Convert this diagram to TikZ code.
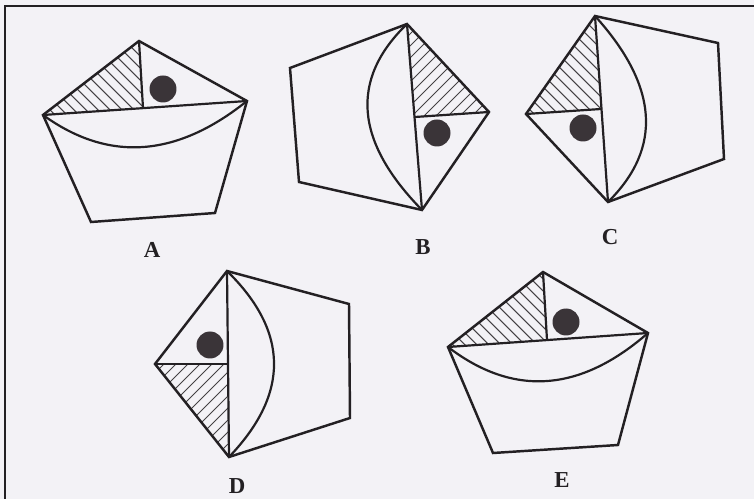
\documentclass[tikz,border=0pt]{standalone}
\usepackage{fontspec}
\setmainfont{Liberation Serif}
\usetikzlibrary{calc}
\definecolor{paper}{RGB}{243,242,246}
\definecolor{ink}{RGB}{35,32,35}
\definecolor{blot}{RGB}{58,52,56}

\begin{document}
\begin{tikzpicture}[x=0.02cm,y=-0.02cm,
  edge/.style={draw=ink,line width=1.4pt,line join=miter},
  cut/.style={draw=ink,line width=1.25pt},
  hatch/.style={draw=ink!85,line width=0.6pt},
  dot/.style={circle,fill=blot,minimum size=0.54cm,inner sep=0pt},
  lab/.style={font=\bfseries\fontsize{13}{13}\selectfont,text=ink}]
  \fill[paper] (0,0) rectangle (754,499);
  \useasboundingbox (0,0) rectangle (754,499);
  \draw[ink,line width=1.2pt] (5,499) -- (5,6) -- (754,6);

  % A
  \coordinate (aT) at (139,41);
  \coordinate (aR) at (247,101);
  \coordinate (aBR) at (215,213);
  \coordinate (aBL) at (91,222);
  \coordinate (aL) at (43,115);
  \coordinate (aF) at (143,108);
  \coordinate (aQ) at (141,186);
  \begin{scope}
    \clip (aT) -- (aL) -- (aF) -- cycle;
    \foreach \c in {-600,-588,...,800} \draw[hatch] (\c,0) -- ++(500,500);
  \end{scope}
  \draw[edge] (aT) -- (aR) -- (aBR) -- (aBL) -- (aL) -- cycle;
  \draw[cut] (aL) -- (aR);
  \draw[cut] (aT) -- (aF);
  \draw[cut] (aL) .. controls ($(aL)!.667!(aQ)$) and ($(aR)!.667!(aQ)$) .. (aR);
  \node[dot] (aDot) at (163,89) {};
  \node[lab] (aLab) at (152,250) {A};

  % B
  \coordinate (bT) at (407,24);
  \coordinate (bR) at (489,112);
  \coordinate (bB) at (422,210);
  \coordinate (bLB) at (299,182);
  \coordinate (bLT) at (290,68);
  \coordinate (bF) at (415,117);
  \coordinate (bQ) at (321,107);
  \begin{scope}
    \clip (bT) -- (bR) -- (bF) -- cycle;
    \foreach \c in {0,12,...,1300} \draw[hatch] (\c,0) -- ++(-500,500);
  \end{scope}
  \draw[edge] (bT) -- (bR) -- (bB) -- (bLB) -- (bLT) -- cycle;
  \draw[cut] (bT) -- (bB);
  \draw[cut] (bR) -- (bF);
  \draw[cut] (bT) .. controls ($(bT)!.667!(bQ)$) and ($(bB)!.667!(bQ)$) .. (bB);
  \node[dot] (bDot) at (437,133) {};
  \node[lab] (bLab) at (423,247) {B};

  % C
  \coordinate (cT) at (595,16);
  \coordinate (cRT) at (718,43);
  \coordinate (cRB) at (724,159);
  \coordinate (cB) at (608,202);
  \coordinate (cL) at (526,114);
  \coordinate (cF) at (601,109);
  \coordinate (cQ) at (690,121);
  \begin{scope}
    \clip (cT) -- (cL) -- (cF) -- cycle;
    \foreach \c in {-600,-588,...,800} \draw[hatch] (\c,0) -- ++(500,500);
  \end{scope}
  \draw[edge] (cT) -- (cRT) -- (cRB) -- (cB) -- (cL) -- cycle;
  \draw[cut] (cT) -- (cB);
  \draw[cut] (cL) -- (cF);
  \draw[cut] (cT) .. controls ($(cT)!.667!(cQ)$) and ($(cB)!.667!(cQ)$) .. (cB);
  \node[dot] (cDot) at (583,128) {};
  \node[lab] (cLab) at (610,237) {C};

  % D
  \coordinate (dT) at (227,271);
  \coordinate (dRT) at (349,304);
  \coordinate (dRB) at (350,418);
  \coordinate (dB) at (229,457);
  \coordinate (dL) at (155,364);
  \coordinate (dF) at (228,364);
  \coordinate (dQ) at (320,362);
  \begin{scope}
    \clip (dL) -- (dF) -- (dB) -- cycle;
    \foreach \c in {0,12,...,1300} \draw[hatch] (\c,0) -- ++(-500,500);
  \end{scope}
  \draw[edge] (dT) -- (dRT) -- (dRB) -- (dB) -- (dL) -- cycle;
  \draw[cut] (dT) -- (dB);
  \draw[cut] (dL) -- (dF);
  \draw[cut] (dT) .. controls ($(dT)!.667!(dQ)$) and ($(dB)!.667!(dQ)$) .. (dB);
  \node[dot] (dDot) at (210,345) {};
  \node[lab] (dLab) at (237,486) {D};

  % E
  \coordinate (eT) at (543,272);
  \coordinate (eR) at (648,333);
  \coordinate (eBR) at (618,445);
  \coordinate (eBL) at (493,453);
  \coordinate (eL) at (448,347);
  \coordinate (eF) at (547,340);
  \coordinate (eQ) at (546,422);
  \begin{scope}
    \clip (eT) -- (eL) -- (eF) -- cycle;
    \foreach \c in {-600,-588,...,800} \draw[hatch] (\c,0) -- ++(500,500);
  \end{scope}
  \draw[edge] (eT) -- (eR) -- (eBR) -- (eBL) -- (eL) -- cycle;
  \draw[cut] (eL) -- (eR);
  \draw[cut] (eT) -- (eF);
  \draw[cut] (eL) .. controls ($(eL)!.667!(eQ)$) and ($(eR)!.667!(eQ)$) .. (eR);
  \node[dot] (eDot) at (566,322) {};
  \node[lab] (eLab) at (562,480) {E};
\end{tikzpicture}
\end{document}
